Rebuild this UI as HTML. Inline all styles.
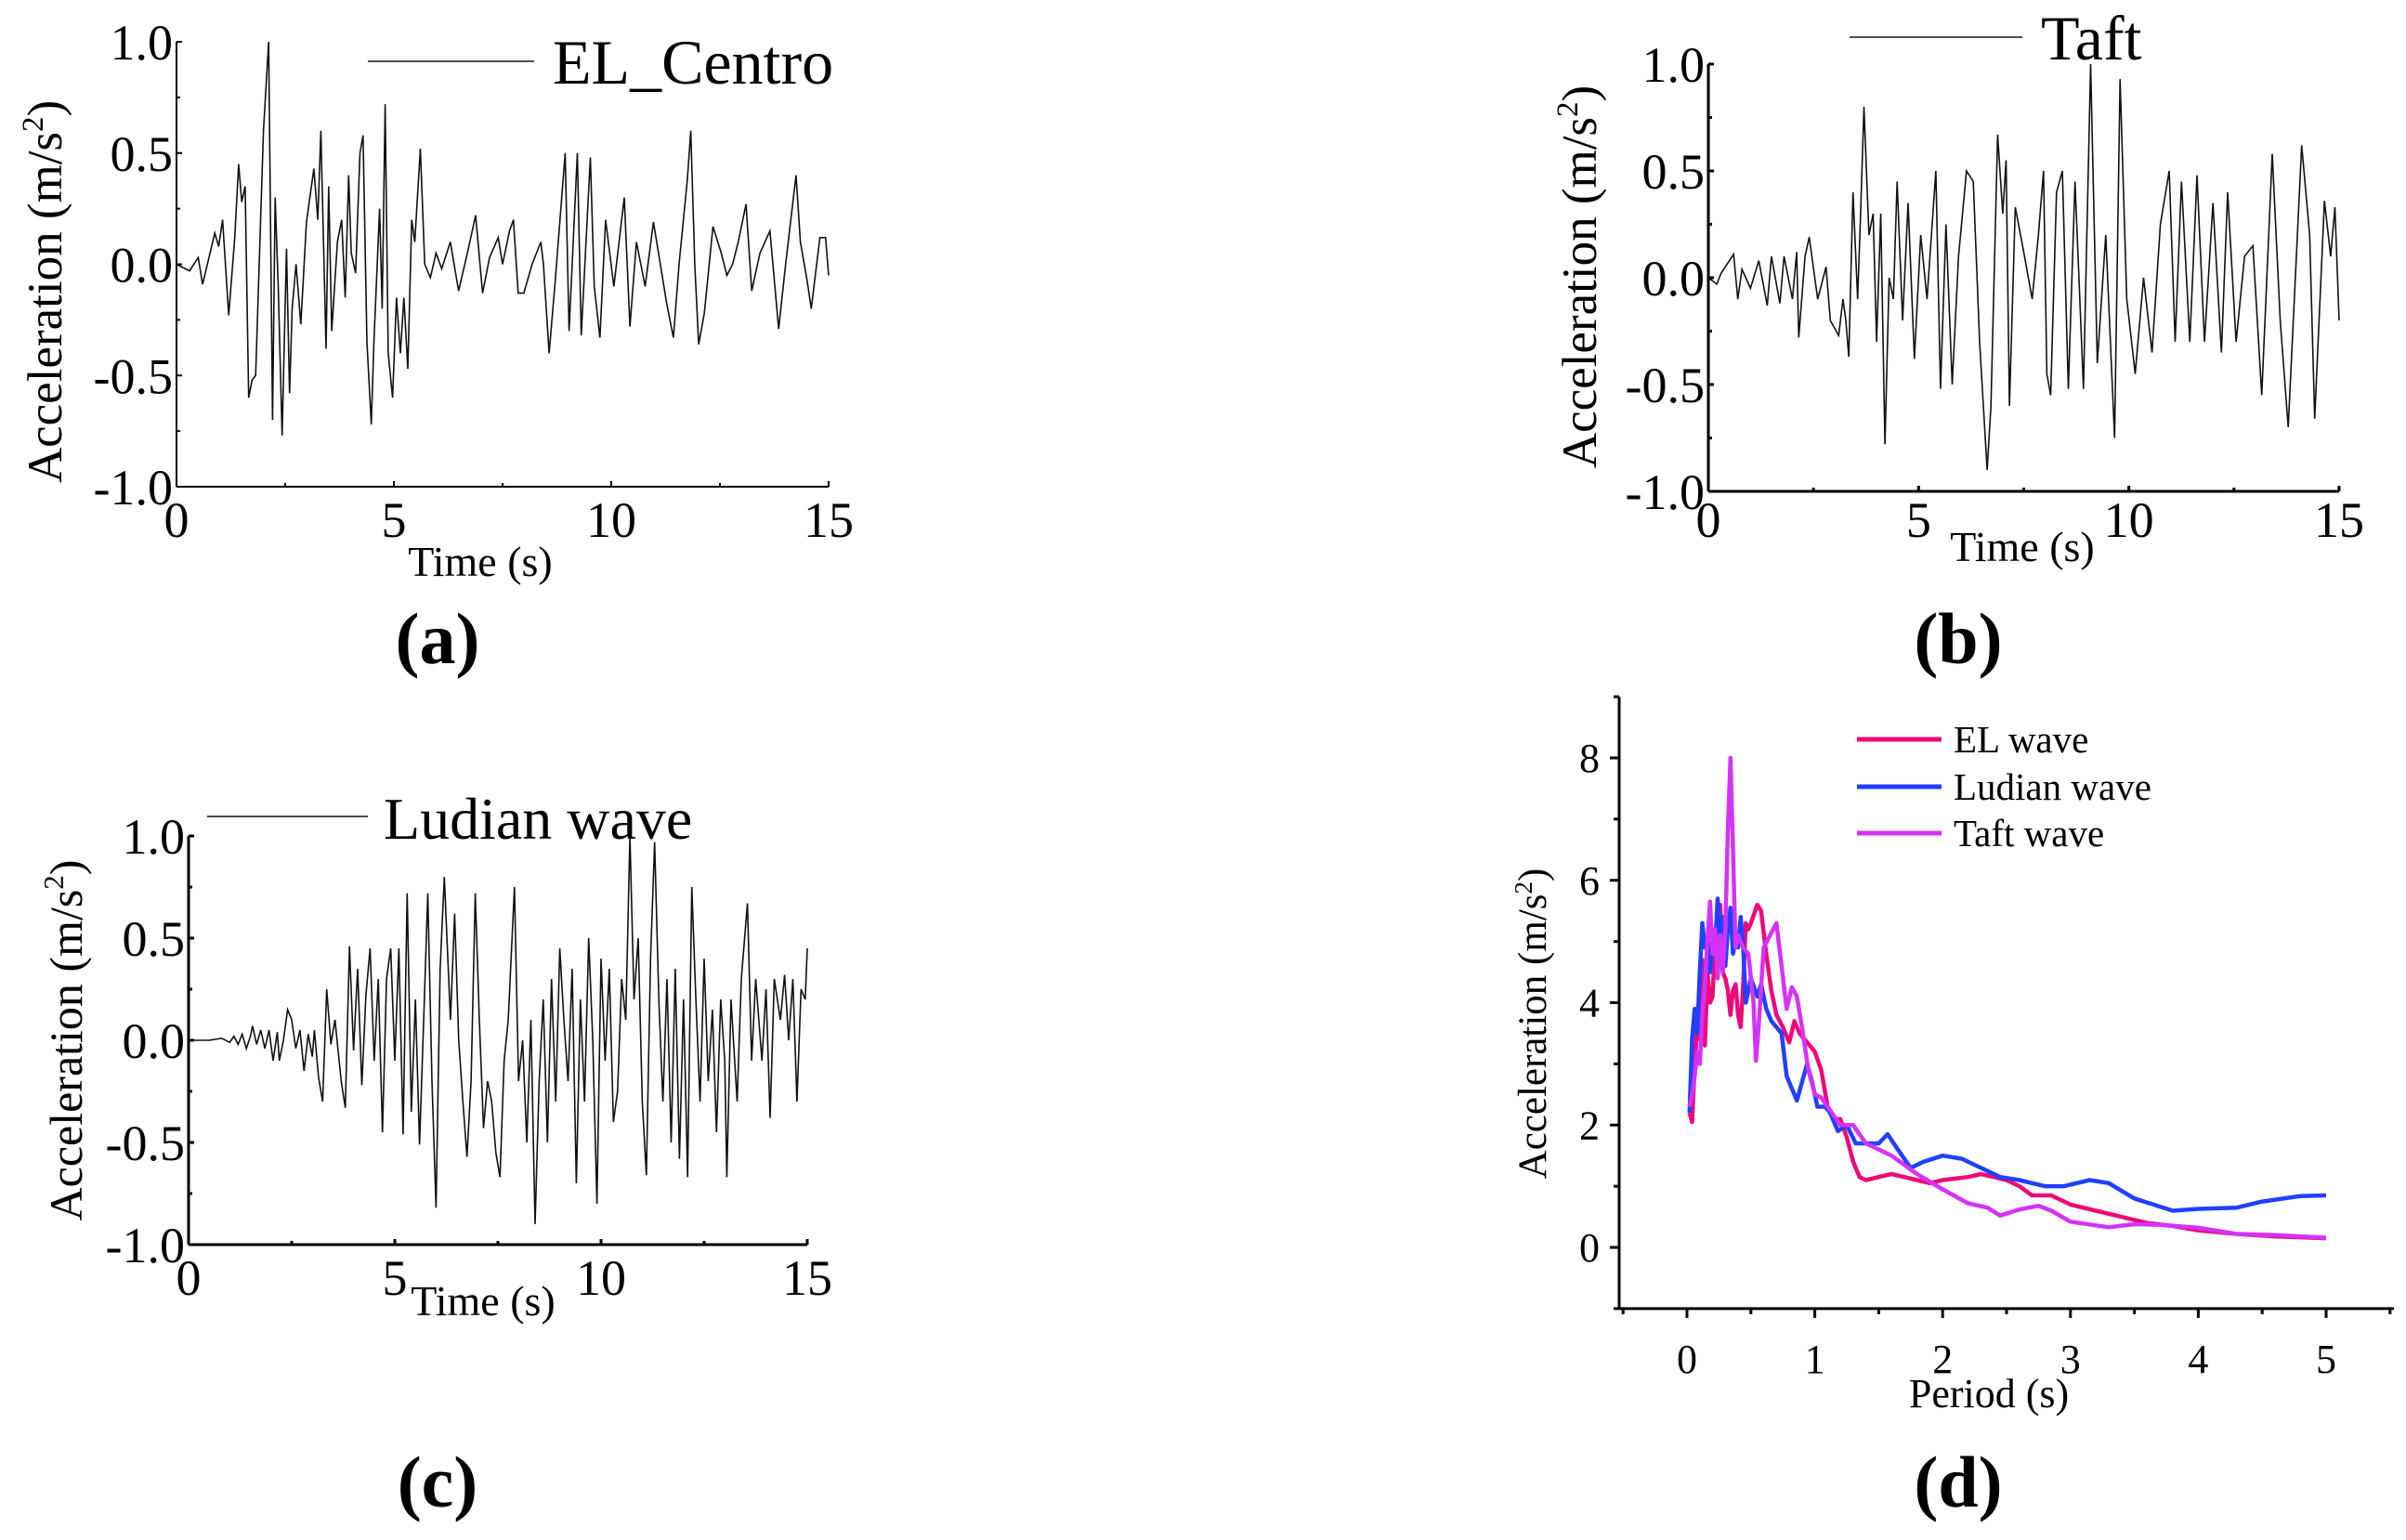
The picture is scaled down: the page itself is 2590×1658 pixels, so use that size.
<!DOCTYPE html>
<html><head><meta charset="utf-8"><style>
html,body{margin:0;padding:0;background:#fff;}
svg{display:block;font-family:"Liberation Serif",serif;}
</style></head><body>
<svg id="fig" width="2590" height="1658" viewBox="0 0 2590 1658" xmlns="http://www.w3.org/2000/svg">
<rect width="2590" height="1658" fill="#fff"/>
</svg>
<script>
// ---- Data ----
const elCentroT = [0,0.3,0.5,0.6,0.88,0.97,1.06,1.2,1.34,1.43,1.5,1.58,1.66,1.74,1.82,2.0,2.12,2.21,2.27,2.34,2.43,2.53,2.6,2.66,2.75,2.86,2.99,3.16,3.25,3.32,3.44,3.5,3.57,3.7,3.8,3.88,3.96,4.02,4.12,4.22,4.29,4.38,4.48,4.54,4.67,4.73,4.8,4.87,4.97,5.06,5.15,5.23,5.32,5.41,5.48,5.61,5.71,5.84,5.97,6.1,6.3,6.49,6.69,6.88,7.04,7.2,7.4,7.5,7.66,7.75,7.86,7.99,8.18,8.38,8.44,8.57,8.7,8.94,9.03,9.22,9.31,9.52,9.61,9.74,9.87,10.06,10.3,10.43,10.58,10.78,10.97,11.17,11.27,11.43,11.56,11.75,11.83,11.92,12.01,12.14,12.34,12.53,12.66,12.79,12.92,13.1,13.23,13.42,13.65,13.85,14.01,14.25,14.35,14.51,14.6,14.8,14.93,15.0];
const elCentroV = [0,-0.03,0.03,-0.09,0.14,0.08,0.2,-0.23,0.12,0.45,0.28,0.35,-0.6,-0.52,-0.5,0.6,1.0,-0.7,0.3,-0.1,-0.77,0.07,-0.58,-0.2,0.0,-0.27,0.19,0.43,0.2,0.6,-0.38,0.35,-0.3,0.1,0.2,-0.15,0.4,0.05,-0.04,0.5,0.58,-0.35,-0.72,-0.35,0.25,-0.2,0.72,-0.4,-0.6,-0.15,-0.4,-0.15,-0.47,0.2,0.1,0.52,0.0,-0.06,0.05,-0.02,0.1,-0.12,0.05,0.22,-0.13,0.03,0.12,0.0,0.15,0.2,-0.13,-0.13,0.0,0.1,0.0,-0.4,-0.1,0.5,-0.3,0.5,-0.32,0.48,-0.1,-0.33,0.2,-0.1,0.3,-0.28,0.1,-0.1,0.19,-0.05,-0.17,-0.33,0.0,0.38,0.6,0.0,-0.36,-0.22,0.17,0.05,-0.05,0.0,0.1,0.27,-0.12,0.05,0.15,-0.29,0.0,0.4,0.1,-0.08,-0.2,0.12,0.12,-0.05];

const taftT = [0,0.2,0.3,0.6,0.7,0.8,1.0,1.2,1.4,1.5,1.7,1.8,2.0,2.1,2.15,2.3,2.4,2.6,2.8,2.9,3.1,3.2,3.27,3.34,3.44,3.55,3.62,3.7,3.82,3.92,4.0,4.1,4.2,4.3,4.4,4.49,4.62,4.75,4.9,5.05,5.2,5.41,5.52,5.65,5.8,5.95,6.14,6.3,6.45,6.63,6.72,6.88,7.0,7.08,7.16,7.3,7.5,7.7,7.85,7.97,8.05,8.14,8.28,8.42,8.56,8.72,8.92,9.09,9.25,9.45,9.66,9.79,9.95,10.15,10.35,10.55,10.75,10.96,11.1,11.25,11.45,11.62,11.8,12.0,12.2,12.35,12.55,12.75,12.95,13.16,13.41,13.6,13.79,14.11,14.3,14.42,14.65,14.8,14.9,15.0];
const taftV = [0,-0.03,0.02,0.11,-0.1,0.04,-0.05,0.08,-0.13,0.1,-0.12,0.1,-0.1,0.12,-0.28,0.1,0.19,-0.1,0.05,-0.2,-0.27,-0.1,-0.2,-0.37,0.4,-0.1,0.3,0.8,0.2,0.3,-0.3,0.3,-0.78,0.0,-0.1,0.45,-0.2,0.35,-0.38,0.2,-0.1,0.5,-0.52,0.25,-0.5,0.1,0.5,0.45,-0.3,-0.9,-0.6,0.67,0.3,0.55,-0.6,0.33,0.12,-0.1,0.2,0.5,-0.45,-0.55,0.4,0.5,-0.52,0.45,-0.52,1.0,-0.4,0.2,-0.75,0.93,-0.1,-0.45,0.0,-0.35,0.25,0.5,-0.3,0.45,-0.3,0.48,-0.3,0.35,-0.35,0.4,-0.3,0.1,0.15,-0.55,0.58,-0.2,-0.7,0.62,0.2,-0.66,0.36,0.1,0.33,-0.2];

const ludianT = [0,0.5,0.8,1.0,1.1,1.2,1.3,1.4,1.5,1.55,1.65,1.75,1.85,1.95,2.05,2.15,2.2,2.3,2.4,2.5,2.6,2.7,2.8,2.9,3.0,3.05,3.15,3.25,3.35,3.45,3.55,3.7,3.8,3.9,4.0,4.1,4.2,4.3,4.4,4.5,4.6,4.7,4.8,4.9,5.0,5.1,5.2,5.3,5.4,5.5,5.6,5.7,5.8,5.9,6.0,6.1,6.2,6.35,6.45,6.55,6.65,6.75,6.85,6.95,7.05,7.15,7.25,7.35,7.45,7.55,7.65,7.75,7.9,8.0,8.1,8.2,8.3,8.4,8.5,8.6,8.7,8.8,8.9,9.0,9.1,9.2,9.3,9.4,9.5,9.6,9.7,9.8,9.9,10.0,10.1,10.2,10.3,10.4,10.5,10.6,10.7,10.8,10.9,11.0,11.1,11.2,11.3,11.4,11.5,11.6,11.7,11.8,11.9,12.0,12.1,12.2,12.3,12.4,12.5,12.6,12.7,12.8,12.9,13.0,13.05,13.15,13.3,13.4,13.55,13.65,13.75,13.9,14.0,14.1,14.2,14.35,14.45,14.55,14.65,14.75,14.85,14.95,15.0];
const ludianV = [0,0.0,0.01,-0.01,0.02,-0.02,0.03,-0.04,0.02,0.07,-0.02,0.05,-0.04,0.05,-0.1,0.04,-0.1,0.0,0.15,0.1,-0.04,0.05,-0.15,0.03,-0.08,0.05,-0.18,-0.3,0.25,-0.02,0.1,-0.2,-0.33,0.46,-0.05,0.35,-0.22,0.22,0.45,-0.1,0.3,-0.45,0.3,0.45,-0.1,0.45,-0.46,0.72,-0.35,0.2,-0.51,0.1,0.72,-0.2,-0.82,0.35,0.8,0.1,0.62,0.0,-0.3,-0.57,-0.2,0.72,0.1,-0.43,-0.2,-0.3,-0.55,-0.67,-0.1,0.1,0.75,-0.2,0.0,-0.5,0.1,-0.9,-0.2,0.2,-0.5,0.3,-0.3,0.45,0.1,-0.2,0.35,-0.7,0.2,-0.3,0.5,0.0,-0.8,0.4,-0.1,0.35,-0.4,-0.25,0.3,0.1,1.0,0.2,0.5,-0.3,-0.66,0.4,0.97,0.2,-0.3,0.3,-0.5,0.35,-0.58,0.2,-0.67,0.75,0.2,-0.3,0.4,-0.2,0.15,-0.45,0.2,-0.1,-0.67,0.2,-0.3,0.3,0.67,-0.1,0.3,-0.1,0.25,-0.38,0.3,0.1,0.32,0.0,0.3,-0.3,0.25,0.2,0.45];

const specElT = [0.02,0.04,0.06,0.08,0.1,0.12,0.14,0.16,0.18,0.2,0.22,0.24,0.26,0.28,0.3,0.32,0.34,0.36,0.38,0.4,0.42,0.44,0.46,0.48,0.5,0.55,0.58,0.62,0.66,0.7,0.75,0.8,0.84,0.88,0.92,0.96,1.0,1.05,1.1,1.15,1.2,1.25,1.3,1.35,1.4,1.5,1.6,1.7,1.8,1.9,2.0,2.2,2.3,2.4,2.5,2.6,2.7,2.85,3.0,3.2,3.4,3.6,3.8,4.0,4.3,4.6,5.0];
const specElV = [2.2,2.05,3.0,3.6,3.4,4.7,3.3,4.5,4.0,4.1,5.0,4.6,5.6,4.5,4.4,4.2,3.8,4.2,4.3,3.8,3.6,4.3,5.3,5.2,5.3,5.6,5.5,4.8,4.2,3.8,3.6,3.35,3.7,3.5,3.4,3.3,3.2,2.9,2.3,2.1,2.1,1.8,1.4,1.15,1.1,1.15,1.2,1.15,1.1,1.05,1.1,1.15,1.2,1.15,1.1,1.0,0.85,0.85,0.7,0.6,0.5,0.4,0.35,0.28,0.22,0.18,0.15];
const specLuT = [0.02,0.04,0.06,0.08,0.1,0.12,0.14,0.16,0.18,0.2,0.22,0.24,0.26,0.28,0.3,0.32,0.34,0.36,0.38,0.4,0.42,0.44,0.46,0.5,0.55,0.58,0.62,0.66,0.7,0.74,0.78,0.82,0.86,0.9,0.94,0.98,1.02,1.08,1.12,1.18,1.25,1.32,1.4,1.5,1.57,1.65,1.75,1.85,2.0,2.15,2.3,2.45,2.6,2.8,2.95,3.15,3.3,3.5,3.65,3.8,4.0,4.3,4.5,4.8,5.0];
const specLuV = [2.2,3.4,3.9,3.5,4.5,5.3,4.9,5.0,4.5,5.2,4.9,5.7,5.1,5.4,4.6,5.2,5.55,4.8,5.0,4.9,5.4,4.9,4.0,4.4,4.1,4.3,3.9,3.7,3.6,3.5,2.8,2.6,2.4,2.7,3.0,2.7,2.3,2.3,2.2,1.9,2.0,1.7,1.7,1.7,1.85,1.6,1.3,1.4,1.5,1.45,1.3,1.15,1.1,1.0,1.0,1.1,1.05,0.8,0.7,0.6,0.63,0.65,0.75,0.84,0.85];
const specTaT = [0.02,0.04,0.06,0.08,0.1,0.12,0.14,0.16,0.18,0.2,0.22,0.24,0.26,0.28,0.3,0.32,0.34,0.36,0.38,0.4,0.44,0.48,0.52,0.54,0.56,0.6,0.65,0.7,0.74,0.78,0.82,0.86,0.9,0.95,1.0,1.05,1.1,1.2,1.3,1.4,1.6,1.8,2.0,2.2,2.35,2.45,2.6,2.75,2.85,3.0,3.2,3.3,3.5,3.7,4.0,4.3,4.6,5.0];
const specTaV = [2.3,2.5,2.8,3.2,3.0,3.8,4.3,5.0,5.65,4.8,5.2,4.4,5.1,4.5,5.2,6.8,8.0,6.5,4.9,5.1,4.9,4.8,4.0,3.05,3.6,4.9,5.1,5.3,4.6,3.9,4.25,4.1,3.6,2.9,2.5,2.45,2.3,2.0,2.0,1.7,1.5,1.2,0.95,0.72,0.65,0.52,0.62,0.68,0.6,0.42,0.36,0.33,0.38,0.37,0.32,0.22,0.2,0.16];

const timeTicks = [0,5,10,15];
const accTicks = [-1.0,-0.5,0.0,0.5,1.0];
const accTickLabels = ["-1.0","-0.5","0.0","0.5","1.0"];
const periodTicks = [0,1,2,3,4,5];
const spectrumTicks = [0,2,4,6,8];

// ---- Drawing ----
const NS = "http://www.w3.org/2000/svg";
const svg = document.getElementById('fig');
function mk(tag, attrs, parent){
  const e = document.createElementNS(NS, tag);
  for (const k in attrs) e.setAttribute(k, attrs[k]);
  (parent||svg).appendChild(e);
  return e;
}
function lin(d0,d1,r0,r1){ return v => r0 + (v-d0)*(r1-r0)/(d1-d0); }

function timePanel(cfg){
  const g = mk('g', {});
  
  
  const sx = lin(0,15,cfg.x0,cfg.x1), sy = lin(-1,1,cfg.y0,cfg.y1);
  const aw = cfg.aw;
  const ya = mk('line',{x1:cfg.x0,y1:sy(1),x2:cfg.x0,y2:sy(-1),stroke:'#000','stroke-width':aw},g);
  
  
  const xa = mk('line',{x1:cfg.x0,y1:sy(-1),x2:sx(15),y2:sy(-1),stroke:'#000','stroke-width':aw},g);
  
  
  accTicks.forEach((v,i)=>{
    mk('line',{x1:cfg.x0,y1:sy(v),x2:cfg.x0+6,y2:sy(v),stroke:'#000','stroke-width':aw},g);
    const t = mk('text',{x:cfg.x0-4,y:sy(v)+19,'font-size':cfg.fs,'text-anchor':'end'},g);
    t.textContent = accTickLabels[i];
    
    
  });
  [-0.75,-0.25,0.25,0.75].forEach(v=>{
    mk('line',{x1:cfg.x0,y1:sy(v),x2:cfg.x0+4,y2:sy(v),stroke:'#000','stroke-width':aw},g);
  });
  timeTicks.forEach(v=>{
    mk('line',{x1:sx(v),y1:sy(-1),x2:sx(v),y2:sy(-1)-6,stroke:'#000','stroke-width':aw},g);
    const t = mk('text',{x:sx(v),y:cfg.xlY,'font-size':cfg.fs,'text-anchor':'middle'},g);
    t.textContent = String(v);
    
    
  });
  [2.5,7.5,12.5].forEach(v=>{
    mk('line',{x1:sx(v),y1:sy(-1),x2:sx(v),y2:sy(-1)-4,stroke:'#000','stroke-width':aw},g);
  });
  const pts = cfg.t.map((t,i)=> sx(t).toFixed(1)+','+sy(cfg.v[i]).toFixed(1)).join(' ');
  const pl = mk('polyline',{points:pts,fill:'none',stroke:'#111','stroke-width':1.6,'stroke-linejoin':'miter'},g);
  
  
  const ll = mk('line',{x1:cfg.lx0,y1:cfg.ly,x2:cfg.lx1,y2:cfg.ly,stroke:'#111','stroke-width':1.6},g);
  
  
  const lt = mk('text',{x:cfg.ltx,y:cfg.ly+24,'font-size':cfg.lfs},g);
  lt.textContent = cfg.legend;
  
  
  const xt = mk('text',{x:cfg.xtx,y:cfg.xty,'font-size':cfg.tfs,'text-anchor':'middle'},g);
  xt.textContent = 'Time (s)';
  
  
  const yt = mk('text',{x:0,y:0,'font-size':cfg.yfs,'text-anchor':'middle',transform:`translate(${cfg.ytx},${cfg.yty}) rotate(-90)`},g);
  yt.innerHTML = 'Acceleration (m/s<tspan dy="-20" font-size="'+(cfg.yfs*0.62)+'">2</tspan><tspan dy="20">)</tspan>';
  
  
  const pt = mk('text',{x:cfg.px,y:cfg.py,'font-size':78,'text-anchor':'middle','font-weight':'bold'},g);
  pt.textContent = '('+cfg.letter+')';
  
  
}

timePanel({name:'panel-a-el-centro',seriesName:'el-centro-series',x0:190,x1:892,y0:524,y1:45,aw:2,fs:54,xlY:578,
  t:elCentroT,v:elCentroV,lx0:396,lx1:575,ly:66,ltx:595,legend:'EL_Centro',lfs:68,
  xtx:517,xty:620,tfs:46,ytx:66,yty:314,yfs:53,px:471,py:714,letter:'a'});
timePanel({name:'panel-b-taft',seriesName:'taft-series',x0:1839,x1:2518,y0:529,y1:69,aw:3,fs:54,xlY:578,
  t:taftT,v:taftV,lx0:1991,lx1:2177,ly:40,ltx:2197,legend:'Taft',lfs:68,
  xtx:2177,xty:604,tfs:46,ytx:1718,yty:298,yfs:53,px:2108,py:714,letter:'b'});
timePanel({name:'panel-c-ludian',seriesName:'ludian-series',x0:203,x1:869,y0:1340,y1:900,aw:3,fs:54,xlY:1394,
  t:ludianT,v:ludianV,lx0:223,lx1:396,ly:879,ltx:413,legend:'Ludian wave',lfs:64,
  xtx:520,xty:1416,tfs:46,ytx:88,yty:1120,yfs:50,px:471,py:1622,letter:'c'});

// ---- Panel d: response spectrum ----
(function(){
  const g = mk('g',{});
  
  
  const sx = lin(0,5,1816,2504), sy = lin(0,8,1343,816);
  const ya = mk('line',{x1:1743,y1:sy(9),x2:1743,y2:sy(-1),stroke:'#000','stroke-width':3},g);
  
  
  const xa = mk('line',{x1:1743,y1:sy(-1),x2:2577,y2:sy(-1),stroke:'#000','stroke-width':3},g);
  
  
  for(let v=-1; v<=9; v++){
    const major = spectrumTicks.includes(v);
    mk('line',{x1:1743,y1:sy(v),x2:1743-(major?10:6),y2:sy(v),stroke:'#000','stroke-width':3},g);
  }
  spectrumTicks.forEach(v=>{
    const t = mk('text',{x:1722,y:sy(v)+15,'font-size':44,'text-anchor':'end'},g);
    t.textContent = String(v);
    
    
  });
  for(let v=-0.5; v<=5.5; v+=0.5){
    const major = Number.isInteger(v);
    mk('line',{x1:sx(v),y1:sy(-1),x2:sx(v),y2:sy(-1)+(major?10:6),stroke:'#000','stroke-width':3},g);
  }
  periodTicks.forEach(v=>{
    const t = mk('text',{x:sx(v),y:1478,'font-size':44,'text-anchor':'middle'},g);
    t.textContent = String(v);
    
    
  });
  const xt = mk('text',{x:2141,y:1515,'font-size':44,'text-anchor':'middle'},g);
  xt.textContent = 'Period (s)';
  
  
  const yt = mk('text',{x:0,y:0,'font-size':43,'text-anchor':'middle',transform:'translate(1664,1102) rotate(-90)'},g);
  yt.innerHTML = 'Acceleration (m/s<tspan dy="-15" font-size="27">2</tspan><tspan dy="15">)</tspan>';
  
  
  const series = [
    {t:specElT,v:specElV,c:'#ec0a7a',n:'EL wave',id:'el-wave-series',ly:796},
    {t:specLuT,v:specLuV,c:'#2040ff',n:'Ludian wave',id:'ludian-wave-series',ly:847},
    {t:specTaT,v:specTaV,c:'#d433f6',n:'Taft wave',id:'taft-wave-series',ly:897}
  ];
  series.forEach(s=>{
    const pts = s.t.map((t,i)=> sx(t).toFixed(1)+','+sy(s.v[i]).toFixed(1)).join(' ');
    const pl = mk('polyline',{points:pts,fill:'none',stroke:s.c,'stroke-width':4.5,'stroke-linejoin':'round'},g);
    
    
  });
  series.forEach(s=>{
    const l = mk('line',{x1:1999,y1:s.ly,x2:2090,y2:s.ly,stroke:s.c,'stroke-width':5},g);
    
    
    const t = mk('text',{x:2103,y:s.ly+14,'font-size':41},g);
    t.textContent = s.n;
    
    
  });
  const pt = mk('text',{x:2108,y:1622,'font-size':78,'text-anchor':'middle','font-weight':'bold'},g);
  pt.textContent = '(d)';
  
  
})();
</script>
</body></html>
